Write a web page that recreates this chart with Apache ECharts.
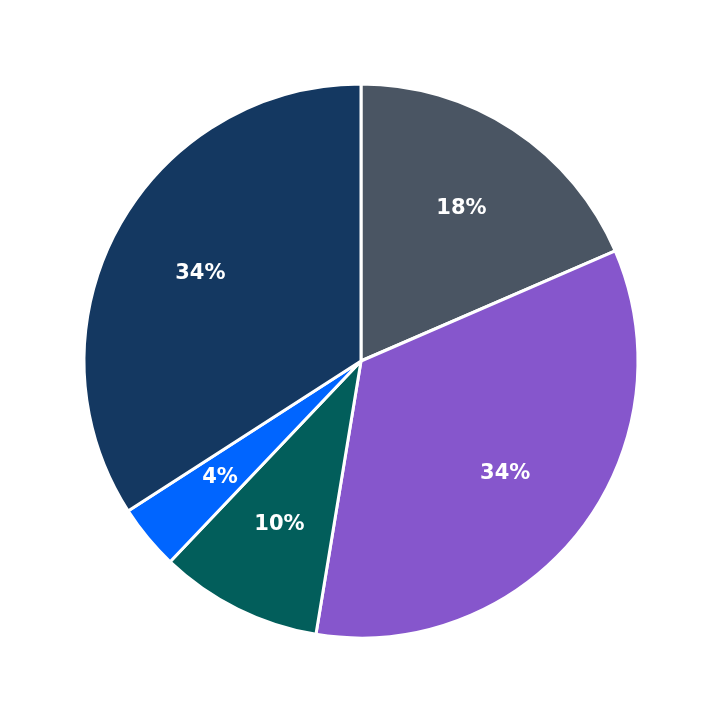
<!DOCTYPE html><html><head><meta charset="utf-8"><script src="https://cdn.jsdelivr.net/npm/echarts@6/dist/echarts.min.js"></script></head><body style="margin:0"><div id="c" style="width:723px;height:723px"></div><script>
const categories=['A','B','C','D','E'];
const values=[18.5,34.1,9.5,3.8,34.1];
const labels=['18%','34%','10%','4%','34%'];
const colors=['#4a5563','#8656cc','#025e5b','#0065ff','#143861'];
const ch=echarts.init(document.getElementById('c'));
const data=categories.map((n,i)=>({name:n,value:values[i],itemStyle:{color:colors[i]}}));
ch.setOption({animation:false,series:[
{type:'pie',center:[361,361],radius:[0,277],startAngle:90,data:data,label:{show:false},labelLine:{show:false},itemStyle:{borderColor:'#fff',borderWidth:3}},
{type:'pie',center:[361,361],radius:[0,360],startAngle:90,silent:true,z:5,
 data:categories.map((n,i)=>({name:n,value:values[i],itemStyle:{color:'transparent'}})),
 label:{show:true,position:'inside',formatter:p=>labels[p.dataIndex],color:'#fff',fontSize:21,fontWeight:'bold',fontFamily:'DejaVu Sans'},labelLine:{show:false}}
]});
</script></body></html>
